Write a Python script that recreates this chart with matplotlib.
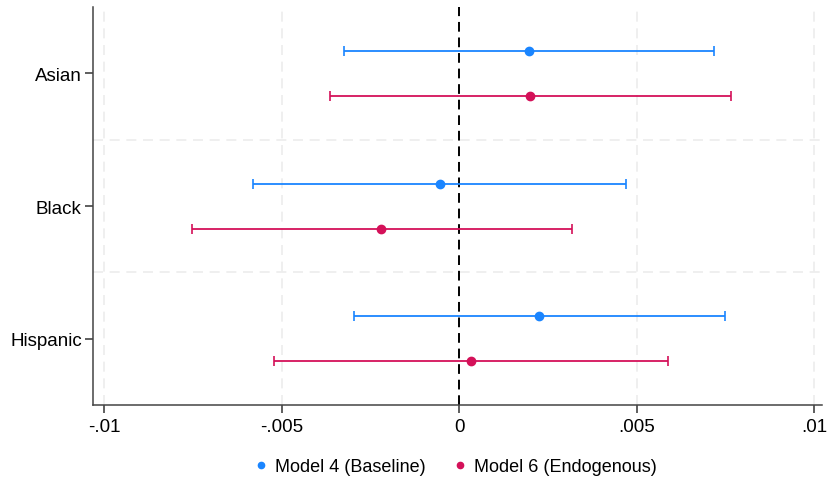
import matplotlib.pyplot as plt
import numpy as np

plt.rcParams['font.family'] = ['Liberation Sans', 'DejaVu Sans']

groups = ['Asian', 'Black', 'Hispanic']
models = ['Model 4 (Baseline)', 'Model 6 (Endogenous)']
colors = ['#1a85ff', '#d41159']

# point estimates and 95% CI bounds, per model
est = [[0.00196, -0.00055, 0.00225],
       [0.00200, -0.00219, 0.00034]]
lo = [[-0.00324, -0.00581, -0.00296],
      [-0.00363, -0.00752, -0.00521]]
hi = [[0.00718, 0.00470, 0.00749],
      [0.00766, 0.00317, 0.00589]]

xticks = [-0.01, -0.005, 0, 0.005, 0.01]
xticklabels = ['-.01', '-.005', '0', '.005', '.01']

fig = plt.figure(figsize=(8.28, 4.81), dpi=100)
ax = fig.add_axes([0.1123, 0.156, 0.881, 0.827])

pos = np.arange(len(groups))
offsets = [-0.17, 0.17]

for xv in [-0.01, -0.005, 0.005, 0.01]:
    ax.axvline(xv, color='#ececec', lw=1.2, ls=(0, (6, 4)), zorder=0)
for yv in [0.5, 1.5]:
    ax.axhline(yv, color='#ececec', lw=1.2, ls=(0, (6, 4)), zorder=0)
ax.axvline(0, color='black', lw=1.4, ls=(0, (5, 3)), zorder=1)

for m in range(len(models)):
    e = np.array(est[m])
    err = [e - np.array(lo[m]), np.array(hi[m]) - e]
    ax.errorbar(e, pos + offsets[m], xerr=err, fmt='o', color=colors[m],
                ms=6, lw=1.3, capsize=3.5, capthick=1.2, label=models[m], zorder=3)

ax.set_xlim(-0.01031, 0.01023)
ax.set_ylim(2.5, -0.5)
ax.set_yticks(pos)
ax.set_yticklabels(groups, fontsize=13.5)
ax.set_xticks(xticks)
ax.set_xticklabels(xticklabels, fontsize=13.5)
ax.tick_params(axis='both', color='#333333', length=6, width=1.1)
ax.tick_params(axis='y', pad=2)
for s in ['top', 'right']:
    ax.spines[s].set_visible(False)
for s in ['left', 'bottom']:
    ax.spines[s].set_color('#444444')
    ax.spines[s].set_linewidth(1.1)

h = [plt.Line2D([], [], marker='o', ls='', color=c, ms=4.5) for c in colors]
fig.legend(h, models, loc='center', bbox_to_anchor=(0.551, 0.028), ncol=2,
           frameon=False, fontsize=13, handlelength=0.6, handletextpad=0.5,
           columnspacing=1.6)

fig.savefig('out.png', dpi=100)
